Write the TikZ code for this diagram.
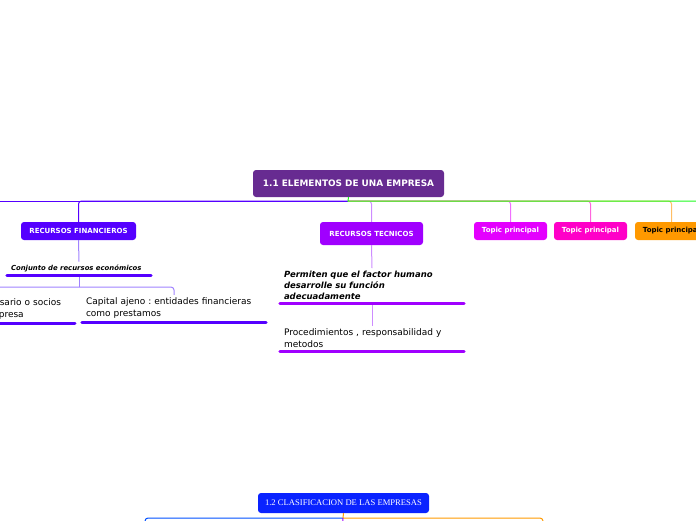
\documentclass[tikz,border=0pt]{standalone}
\usepackage{fontspec}
\setmainfont{DejaVu Sans}
\newfontfamily\serifb{Liberation Serif}
\frenchspacing
\definecolor{mainc}{RGB}{103,43,145}
\definecolor{finc}{RGB}{85,0,255}
\definecolor{finl}{RGB}{160,130,255}
\definecolor{tecc}{RGB}{160,0,255}
\definecolor{tecl}{RGB}{205,140,255}
\definecolor{greenl}{RGB}{30,250,30}
\definecolor{magc}{RGB}{228,0,255}
\definecolor{magl}{RGB}{240,110,255}
\definecolor{pinkc}{RGB}{255,0,200}
\definecolor{pinkl}{RGB}{255,100,220}
\definecolor{orc}{RGB}{255,153,0}
\definecolor{orl}{RGB}{255,190,100}
\definecolor{clasc}{RGB}{10,35,255}
\definecolor{bluel}{RGB}{0,80,255}
\tikzset{
  topicbox/.style={rectangle, rounded corners=3pt, inner sep=0pt, text=white, font=\bfseries\fontsize{7}{8}\selectfont},
  subtxt/.style={inner xsep=4pt, inner ysep=3pt, align=left, text width=176pt},
  trunk/.style={line width=1pt},
  branch/.style={line width=1pt, rounded corners=3pt},
  uline/.style={line width=3pt, line cap=round},
}
\begin{document}
\begin{tikzpicture}[x=1pt,y=-1pt]
\useasboundingbox (0,0) rectangle (696,520);
% nodes
\node[topicbox, fill=mainc, minimum width=191pt, minimum height=27pt, font=\bfseries\fontsize{8.9}{10}\selectfont] (main) at (348.5,183.5) {1.1 ELEMENTOS DE UNA EMPRESA};
\node[topicbox, fill=finc, minimum width=115pt, minimum height=18pt] (fin) at (78.5,231) {RECURSOS FINANCIEROS};
\node[topicbox, fill=tecc, minimum width=103pt, minimum height=23pt] (tec) at (371.5,233.5) {RECURSOS TECNICOS};
\node[topicbox, fill=magc, minimum width=73pt, minimum height=18pt] (t1) at (510.5,231) {Topic principal};
\node[topicbox, fill=pinkc, minimum width=73pt, minimum height=18pt] (t2) at (590.5,231) {Topic principal};
\node[topicbox, fill=orc, minimum width=73pt, minimum height=18pt, text=black] (t3) at (671.5,231) {Topic principal};
\node[topicbox, fill=clasc, minimum width=171pt, minimum height=20pt, font=\serifb\fontsize{8.6}{10}\selectfont] (clas) at (343.5,503) {1.2 CLASIFICACION DE LAS EMPRESAS};

\node[subtxt, text width=136pt, anchor=south, font=\bfseries\itshape\fontsize{6.9}{8}\selectfont] (conj) at (79,275) {Conjunto de recursos económicos};
\node[subtxt, anchor=south, font=\fontsize{9}{12}\selectfont] (cap) at (174,322) {Capital ajeno : entidades financieras\\como prestamos};
\node[subtxt, anchor=south east, font=\fontsize{9}{12}\selectfont] (prop) at (75,323) {\hspace*{105pt}sario o socios\\\hspace*{104pt}presa};
\node[subtxt, anchor=south, font=\bfseries\itshape\fontsize{8.5}{11}\selectfont] (perm) at (372,303) {Permiten que el factor humano\\desarrolle su función\\adecuadamente};
\node[subtxt, anchor=south, font=\fontsize{9}{12}\selectfont] (proc) at (372,351) {Procedimientos , responsabilidad y\\metodos};

% coordinates
\coordinate (j) at (348,201);
\coordinate (lend) at (0,201);
\coordinate (rend) at (696,201);
\coordinate (fj) at (79,287);
\coordinate (bj) at (343,518);
\coordinate (bl) at (145,530);
\coordinate (br) at (543,530);
\coordinate (bp) at (342,530);

% branch connectors
\draw[branch, finc] (j) -| (fin.north);
\draw[branch, tecl] (j) -| (tec.north);
\draw[branch, magl] (j) -| (t1.north);
\draw[branch, pinkl] (j) -| (t2.north);
\draw[branch, orl] (j) -| (t3.north);
% trunk
\draw[trunk, finc] (j) -- (lend);
\draw[trunk, greenl] (main.south) -- (j) -- (rend);

% financieros subtree
\draw[branch, finl] (fin.south) -- (conj.north);
\draw[branch, finl] (conj.south) -- (fj);
\draw[branch, finl] (fj) -| (cap.north);
\draw[branch, finl] (fj) -| (prop.north);
\draw[uline, finc] (conj.south west) -- (conj.south east);
\draw[uline, finc] (cap.south west) -- (cap.south east);
\draw[uline, finc] (prop.south west) -- (prop.south east);

% tecnicos subtree
\draw[branch, tecl] (tec.south) -- (perm.north);
\draw[branch, tecl] (perm.south) -- (proc.north);
\draw[uline, tecc] (perm.south west) -- (perm.south east);
\draw[uline, tecc] (proc.south west) -- (proc.south east);

% bottom
\draw[branch, bluel] (bj) -| (bl);
\draw[branch, orc] (bj) -| (br);
\draw[trunk, tecc] (bj) -- (bp);
\draw[trunk, orc] (clas.south) -- (bj);
\end{tikzpicture}
\end{document}
